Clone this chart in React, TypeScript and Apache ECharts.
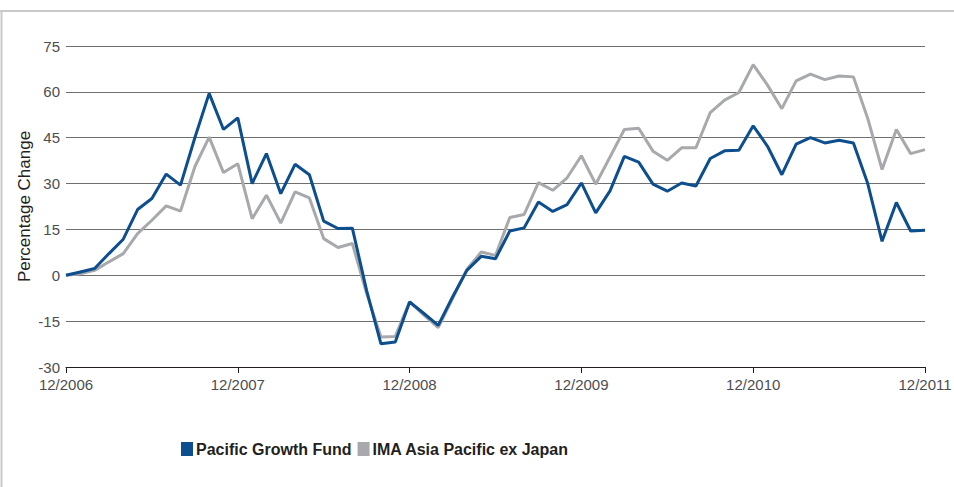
import React, { useEffect, useRef } from "react";
import * as echarts from "echarts";

const years = ["2006", "2007", "2008", "2009", "2010", "2011"];
const tickLabels = years.map((y) => "12/" + y);

const fundValues = [
  0, 1.1, 2.2, 7.1, 11.8, 21.5, 25.1, 33.1, 29.5, 45, 59.5,
  47.7, 51.5, 30, 39.8, 26.7, 36.3, 32.9, 17.7, 15.3, 15.4,
  -5, -22.4, -21.8, -8.7, -12.5, -16.4, -7.1, 1.6, 6.2, 5.4,
  14.5, 15.5, 24, 20.9, 23.1, 30.2, 20.4, 27.6, 38.9, 37,
  29.8, 27.5, 30.2, 29.2, 38.2, 40.7, 40.9, 48.9, 42.2, 32.9,
  42.9, 45, 43.3, 44.2, 43.3, 30, 11.1, 23.8, 14.5, 14.7,
];

const indexValues = [
  0, 0.5, 1.6, 4.4, 7.1, 13.6, 18, 22.7, 21, 35.5, 45.2,
  33.6, 36.5, 18.5, 26.2, 17.1, 27.3, 25.3, 12, 9.1, 10.4,
  -6, -20.2, -20, -8.7, -13, -17.1, -7.6, 1.9, 7.6, 6.5,
  18.9, 19.9, 30.3, 27.8, 31.9, 39.1, 29.8, 38.7, 47.7, 48.1,
  40.6, 37.6, 41.7, 41.7, 53.2, 57.3, 59.8, 68.9, 62.2, 54.5,
  63.6, 65.8, 64, 65.2, 64.9, 51.3, 34.6, 47.7, 39.8, 41.1,
];

const seriesNames = ["Pacific Growth Fund", "IMA Asia Pacific ex Japan"];
const yTicks = { min: -30, max: 75, interval: 15 };

const BLUE = "#0d4e8e";
const GRAY = "#a7a9ac";
const FONT = "'Liberation Sans', Arial, Helvetica, sans-serif";
const EXTRA = 60; // chart canvas extends past the visible page on the right

export default function App() {
  const ref = useRef<HTMLDivElement>(null);
  useEffect(() => {
    if (!ref.current) return;
    const chart = echarts.init(ref.current, null, { renderer: "svg" });
    chart.setOption({
      animation: false,
      backgroundColor: "#ffffff",
      textStyle: { fontFamily: FONT },
      grid: { left: 66, right: 29 + EXTRA, top: 46, bottom: 120, containLabel: false, outerBoundsMode: "none" },
      graphic: [
        {
          type: "line",
          shape: { x1: 0, y1: 11, x2: 954 + EXTRA, y2: 11 },
          style: { stroke: "#c9c9c9", lineWidth: 2 },
          silent: true,
        },
        {
          type: "line",
          shape: { x1: 1.5, y1: 10, x2: 1.5, y2: 487 },
          style: { stroke: "#c9c9c9", lineWidth: 2 },
          silent: true,
        },
      ],
      legend: {
        left: 176,
        top: 436,
        icon: "rect",
        itemWidth: 12,
        itemHeight: 14,
        itemGap: 6,
        data: [
          { name: seriesNames[0], itemStyle: { color: BLUE } },
          { name: seriesNames[1], itemStyle: { color: GRAY } },
        ],
        textStyle: {
          fontFamily: FONT,
          fontSize: 16,
          fontWeight: "bold",
          color: "#231f20",
          padding: [0, 0, 0, -2],
        },
      },
      xAxis: {
        type: "value",
        min: 0,
        max: 60,
        interval: 12,
        axisLine: { show: true, onZero: false, lineStyle: { color: "#231f20", width: 1 } },
        axisTick: { show: true, length: 6, lineStyle: { color: "#231f20" } },
        axisLabel: {
          formatter: (v: number) => tickLabels[Math.round(v / 12)] ?? "",
          fontSize: 15,
          color: "#4d4d4f",
          margin: 10,
          fontFamily: FONT,
          hideOverlap: false,
          alignMinLabel: "center",
          alignMaxLabel: "center",
        },
        splitLine: { show: false },
      },
      yAxis: {
        type: "value",
        min: yTicks.min,
        max: yTicks.max,
        interval: yTicks.interval,
        name: "Percentage Change",
        nameLocation: "middle",
        nameGap: 33,
        nameMoveOverlap: false,
        nameTextStyle: { fontSize: 17, color: "#231f20", fontFamily: FONT },
        axisLine: { show: false },
        axisTick: { show: false },
        axisLabel: { fontSize: 15, color: "#4d4d4f", margin: 6, fontFamily: FONT },
        splitLine: { lineStyle: { color: "#6f6f6f", width: 1 } },
      },
      series: [
        {
          name: seriesNames[1],
          type: "line",
          data: indexValues.map((v, i) => [i, v]),
          showSymbol: false,
          lineStyle: { color: GRAY, width: 3 },
          itemStyle: { color: GRAY },
          z: 2,
        },
        {
          name: seriesNames[0],
          type: "line",
          data: fundValues.map((v, i) => [i, v]),
          showSymbol: false,
          lineStyle: { color: BLUE, width: 3 },
          itemStyle: { color: BLUE },
          z: 3,
        },
      ],
    });
    return () => chart.dispose();
  }, []);
  return (
    <div
      style={{ position: "fixed", left: 0, top: 0, width: 954, height: 487, overflow: "hidden", background: "#fff" }}
    >
      <div ref={ref} style={{ width: 954 + EXTRA, height: 487 }} />
    </div>
  );
}
